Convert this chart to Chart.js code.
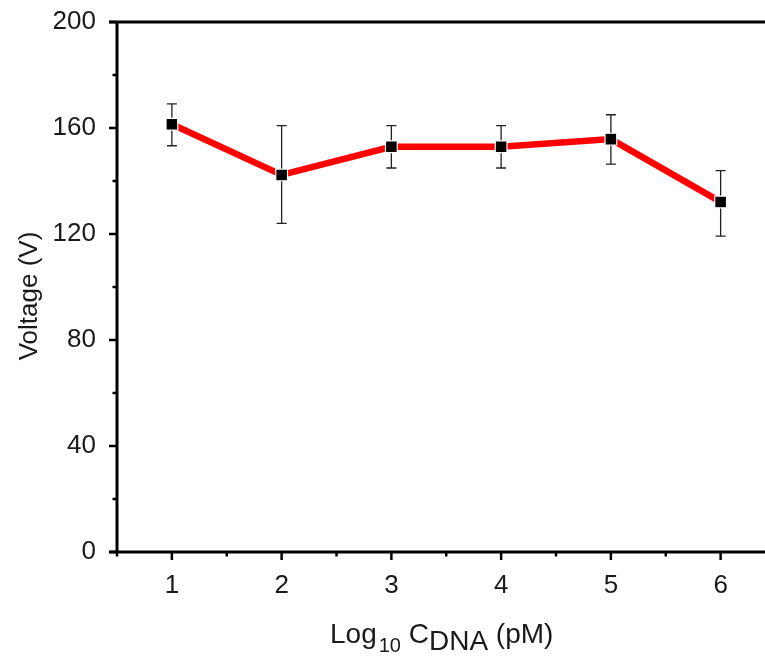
<!DOCTYPE html>
<html>
<head>
<meta charset="utf-8">
<script src="https://cdn.jsdelivr.net/npm/chart.js@4.4.1/dist/chart.umd.min.js"></script>
<style>
  html, body { margin: 0; padding: 0; background: #fff; overflow: hidden; }
  #wrap { width: 785px; height: 657px; }
</style>
</head>
<body>
<div id="wrap"><canvas id="voltChart"></canvas></div>
<script>
// valores
const logConc = [1, 2, 3, 4, 5, 6];
const voltage = [161.4, 142.3, 152.9, 152.9, 155.8, 132.1];
const errUpper = [169.1, 160.9, 160.9, 160.9, 165.0, 143.9];
const errLower = [153.3, 124.0, 144.9, 144.9, 146.4, 119.2];

const yMajor = [0, 40, 80, 120, 160, 200];
const yMinor = [20, 60, 100, 140, 180];
const xMajor = [1, 2, 3, 4, 5, 6];
const xMinor = [0.5, 1.5, 2.5, 3.5, 4.5, 5.5, 6.5];

const FONT = "'Liberation Sans', Arial, sans-serif";

// barras de error, dibujadas detras de la linea
const errorBars = {
    id: 'errorBars',
    beforeDatasetsDraw(chart) {
        const ctx = chart.ctx;
        const xs = chart.scales.x, ys = chart.scales.y;
        ctx.save();
        ctx.strokeStyle = '#222';
        ctx.lineWidth = 1.3;
        logConc.forEach(function(v, i) {
            const px = xs.getPixelForValue(v);
            const top = ys.getPixelForValue(errUpper[i]);
            const bot = ys.getPixelForValue(errLower[i]);
            ctx.beginPath();
            ctx.moveTo(px, top); ctx.lineTo(px, bot);
            ctx.moveTo(px - 5, top); ctx.lineTo(px + 5, top);
            ctx.moveTo(px - 5, bot); ctx.lineTo(px + 5, bot);
            ctx.stroke();
        });
        ctx.restore();
    }
};

// marco y marcas de los ejes (hacia fuera, con menores)
const frameTicks = {
    id: 'frameTicks',
    afterDraw(chart) {
        const ctx = chart.ctx;
        const a = chart.chartArea;
        const xs = chart.scales.x, ys = chart.scales.y;
        ctx.save();
        ctx.strokeStyle = '#000';
        ctx.lineCap = 'butt';
        ctx.lineWidth = 3;
        ctx.beginPath();
        ctx.moveTo(a.left - 8, a.top); ctx.lineTo(a.right, a.top);
        ctx.moveTo(a.left, a.top); ctx.lineTo(a.left, a.bottom);
        ctx.moveTo(a.left - 8, a.bottom); ctx.lineTo(a.right, a.bottom);
        ctx.stroke();

        ctx.lineWidth = 2.5;
        ctx.beginPath();
        yMajor.forEach(function(v) {
            const py = ys.getPixelForValue(v);
            ctx.moveTo(a.left - 8, py); ctx.lineTo(a.left, py);
        });
        yMinor.forEach(function(v) {
            const py = ys.getPixelForValue(v);
            ctx.moveTo(a.left - 4.5, py); ctx.lineTo(a.left, py);
        });
        xMajor.forEach(function(v) {
            const px = xs.getPixelForValue(v);
            ctx.moveTo(px, a.bottom); ctx.lineTo(px, a.bottom + 8);
        });
        xMinor.forEach(function(v) {
            const px = xs.getPixelForValue(v);
            ctx.moveTo(px, a.bottom); ctx.lineTo(px, a.bottom + 4.5);
        });
        ctx.stroke();

        // titulos de los ejes
        ctx.fillStyle = '#1a1a1a';
        ctx.textBaseline = 'alphabetic';
        ctx.textAlign = 'left';
        let x = 330;
        const base = 643;
        const parts = [
            ['Log', 28, 0],
            ['10', 20, 9],
            [' C', 28, 0],
            ['DNA', 28, 7],
            [' (pM)', 28, 0]
        ];
        parts.forEach(function(p) {
            ctx.font = p[1] + 'px ' + FONT;
            ctx.fillText(p[0], x, base + p[2]);
            x += ctx.measureText(p[0]).width + (p[0] === 'Log' ? 2 : 0);
        });

        ctx.save();
        ctx.translate(37, 296);
        ctx.rotate(-Math.PI / 2);
        ctx.textAlign = 'center';
        ctx.font = '26px ' + FONT;
        ctx.fillText('Voltage (V)', 0, 0);
        ctx.restore();
        ctx.restore();
    }
};

new Chart(document.getElementById('voltChart'), {
    type: 'line',
    data: {
        datasets: [{
            data: logConc.map(function(v, i) { return { x: v, y: voltage[i] }; }),
            borderColor: '#ff0000',
            borderWidth: 6.5,
            pointStyle: 'rect',
            pointRadius: 8.3,
            pointBackgroundColor: '#000',
            pointBorderColor: '#fff',
            pointBorderWidth: 1.2,
            tension: 0
        }]
    },
    options: {
        responsive: true,
        maintainAspectRatio: false,
        animation: false,
        layout: { padding: { top: 22, right: 7, left: 0, bottom: 0 } },
        plugins: {
            legend: { display: false },
            tooltip: { enabled: false }
        },
        scales: {
            x: {
                type: 'linear',
                min: 0.5,
                max: 6.5,
                afterFit: function(s) { s.height = 105; s.paddingLeft = 0; s.paddingRight = 0; },
                afterBuildTicks: function(s) { s.ticks = xMajor.map(function(v) { return { value: v }; }); },
                grid: { display: false, drawTicks: false },
                border: { display: false },
                ticks: { color: '#1a1a1a', padding: 18, font: { family: FONT, size: 26 } }
            },
            y: {
                min: 0,
                max: 200,
                afterFit: function(s) { s.width = 117; s.paddingTop = 0; s.paddingBottom = 0; },
                afterBuildTicks: function(s) { s.ticks = yMajor.map(function(v) { return { value: v }; }); },
                grid: { display: false, drawTicks: false },
                border: { display: false },
                ticks: { color: '#1a1a1a', padding: 21, font: { family: FONT, size: 26 } }
            }
        }
    },
    plugins: [errorBars, frameTicks]
});
</script>
</body>
</html>
